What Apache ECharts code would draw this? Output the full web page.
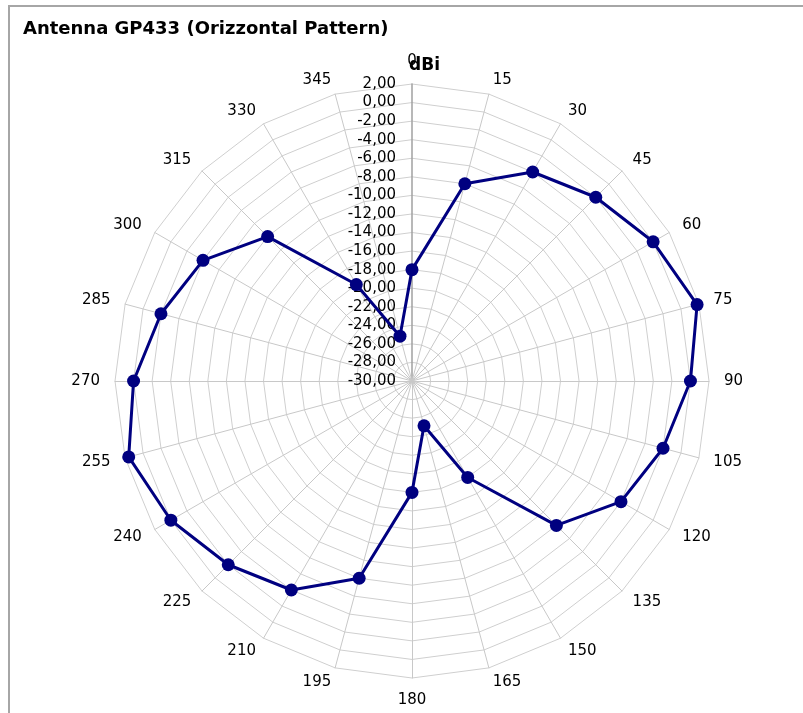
<!DOCTYPE html>
<html>
<head>
<meta charset="utf-8">
<script src="https://cdn.jsdelivr.net/npm/echarts@6/dist/echarts.min.js"></script>
<style>
  html, body { margin: 0; padding: 0; background: #fff; overflow: hidden; }
  #frame { position: absolute; left: 8px; top: 5px; width: 820px; height: 740px; border: 2px solid #a6a6a6; box-sizing: border-box; }
  #chart { position: absolute; left: 0; top: 0; width: 803px; height: 713px; }
</style>
</head>
<body>
<div id="frame"></div>
<div id="chart"></div>
<script>
// Angles (degrees) in clockwise order starting at top
const angles = [0, 15, 30, 45, 60, 75, 90, 105, 120, 135, 150, 165, 180, 195, 210, 225, 240, 255, 270, 285, 300, 315, 330, 345];
// Gain in dBi read at each angle
const gain = [-18, -8, -4, -2, 0, 1.8, 0, -2, -4, -8, -18, -25, -18, -8, -4, -2, 0, 1.6, 0, -2, -4, -8, -18, -25];
const axisMin = -30;
const axisMax = 2;
const axisStep = 2;
const titleText = 'Antenna GP433 (Orizzontal Pattern)';
const unitText = 'dBi';

const FONT = 'DejaVu Sans, Verdana, sans-serif';

// ECharts radar places indicators counter-clockwise: reorder so labels run clockwise
const order = angles.map((a, i) => i === 0 ? 0 : angles.length - i);
const indicator = order.map((k, j) => {
  const ind = { name: String(angles[k]), min: axisMin, max: axisMax };
  if (j === 0) {
    ind.axisLabel = {
      show: true,
      color: '#000',
      fontSize: 15,
      fontFamily: FONT,
      margin: 16,
      formatter: v => v.toFixed(2).replace('.', ',')
    };
    ind.axisLine = { show: true, lineStyle: { color: '#a0a0a0', width: 1.5 } };
  }
  return ind;
});
const values = order.map(k => gain[k]);

const chart = echarts.init(document.getElementById('chart'), null, { renderer: 'canvas' });
chart.setOption({
  animation: false,
  backgroundColor: 'transparent',
  title: [
    { text: titleText, left: 18, top: 15, textStyle: { fontFamily: FONT, fontSize: 18, fontWeight: 'bold', color: '#000' } },
    { text: unitText, left: 404, top: 52, textStyle: { fontFamily: FONT, fontSize: 17, fontWeight: 'bold', color: '#000' } }
  ],
  radar: {
    center: [412, 381],
    radius: 297,
    startAngle: 90,
    shape: 'polygon',
    splitNumber: (axisMax - axisMin) / axisStep,
    indicator: indicator,
    nameGap: 15,
    axisName: { color: '#000', fontSize: 15, fontFamily: FONT },
    axisLine: { show: true, lineStyle: { color: '#c8c8c8', width: 1 } },
    splitLine: { show: true, lineStyle: { color: '#cfcfcf', width: 1 } },
    splitArea: { show: false },
    axisTick: { show: false },
    axisLabel: { show: false }
  },
  series: [{
    type: 'radar',
    symbol: 'circle',
    symbolSize: 13,
    lineStyle: { color: '#000080', width: 3 },
    itemStyle: { color: '#000080' },
    data: [{ value: values }]
  }]
});
</script>
</body>
</html>
